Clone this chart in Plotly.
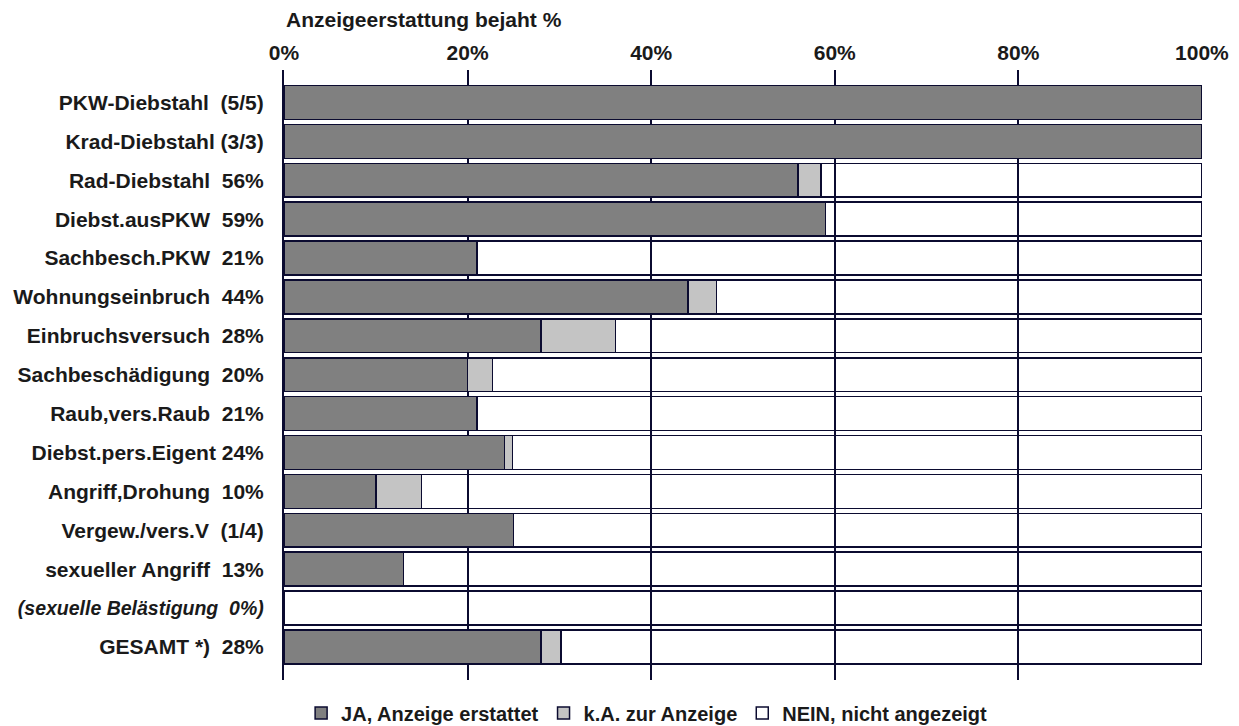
import plotly.graph_objects as go

# Offence categories (row labels carry the reporting rate shown)
categories = [
    "PKW-Diebstahl\u00a0\u00a0(5/5)",
    "Krad-Diebstahl (3/3)",
    "Rad-Diebstahl\u00a0\u00a056%",
    "Diebst.ausPKW\u00a0\u00a059%",
    "Sachbesch.PKW\u00a0\u00a021%",
    "Wohnungseinbruch\u00a0\u00a044%",
    "Einbruchsversuch\u00a0\u00a028%",
    "Sachbeschädigung\u00a0\u00a020%",
    "Raub,vers.Raub\u00a0\u00a021%",
    "Diebst.pers.Eigent 24%",
    "Angriff,Drohung\u00a0\u00a010%",
    "Vergew./vers.V\u00a0\u00a0(1/4)",
    "sexueller Angriff\u00a0\u00a013%",
    "(sexuelle Belästigung\u00a0\u00a00%)",
    "GESAMT *)\u00a0\u00a028%",
]
# the bracketed row is set in italics and slightly smaller
tick_labels = [
    c if not c.startswith("(")
    else "<i><span style='font-size:19.5px'>" + c + "</span></i>"
    for c in categories
]

# Shares in percent
ja_anzeige = [100, 100, 56, 59, 21, 44, 28, 20, 21, 24, 10, 25, 13, 0, 28]
keine_angabe = [0, 0, 2.5, 0, 0, 3.1, 8.1, 2.7, 0, 0.9, 5.0, 0, 0, 0, 2.2]
nein = [round(100 - a - b, 1) for a, b in zip(ja_anzeige, keine_angabe)]

x_ticks = [0, 20, 40, 60, 80, 100]
x_tick_text = ["0%", "20%", "40%", "60%", "80%", "100%"]

NAVY = "#0b0b30"
FONT = dict(family="Liberation Sans, Arial, sans-serif", size=21, color="#1a1a1a", weight="bold")
LEGEND_FONT = dict(FONT, size=20)

fig = go.Figure()
series = [
    ("JA, Anzeige erstattet", ja_anzeige, "#808080"),
    ("k.A. zur Anzeige", keine_angabe, "#c4c4c4"),
    ("NEIN, nicht angezeigt", nein, "rgba(255,255,255,0)"),
]
for name, vals, color in series:
    fig.add_trace(go.Bar(
        y=categories, x=vals, name=name, orientation="h",
        marker=dict(color=color, line=dict(color=NAVY, width=1.5)),
        hoverinfo="skip",
    ))

fig.update_layout(
    barmode="stack",
    bargap=0.13,
    width=1239, height=726,
    margin=dict(l=284, r=37, t=70, b=46, autoexpand=False),
    paper_bgcolor="white",
    plot_bgcolor="white",
    font=FONT,
    showlegend=True,
    legend=dict(
        orientation="h", x=0.395, xanchor="center",
        yref="container", y=0.018, yanchor="middle",
        font=LEGEND_FONT, traceorder="normal", itemwidth=30,
    ),
    xaxis=dict(
        side="top", range=[0, 100.01], tickvals=x_ticks, ticktext=x_tick_text,
        showgrid=True, gridcolor=NAVY, gridwidth=2, automargin=False,
        zeroline=False, showline=False, ticks="", ticklabelstandoff=5,
        tickfont=FONT, fixedrange=True,
    ),
    yaxis=dict(
        type="category", categoryorder="array", categoryarray=categories,
        tickvals=categories, ticktext=tick_labels, automargin=False,
        range=[14.85, -0.835], showgrid=False, zeroline=False,
        showline=True, linecolor=NAVY, linewidth=2,
        ticks="", ticklabelstandoff=14, tickfont=FONT, fixedrange=True,
    ),
    annotations=[dict(
        text="Anzeigeerstattung bejaht %", xref="paper", yref="paper",
        x=0, y=1.082, xanchor="left", yanchor="middle", showarrow=False,
        font=FONT,
    )],
)

fig.write_html("out.html")
